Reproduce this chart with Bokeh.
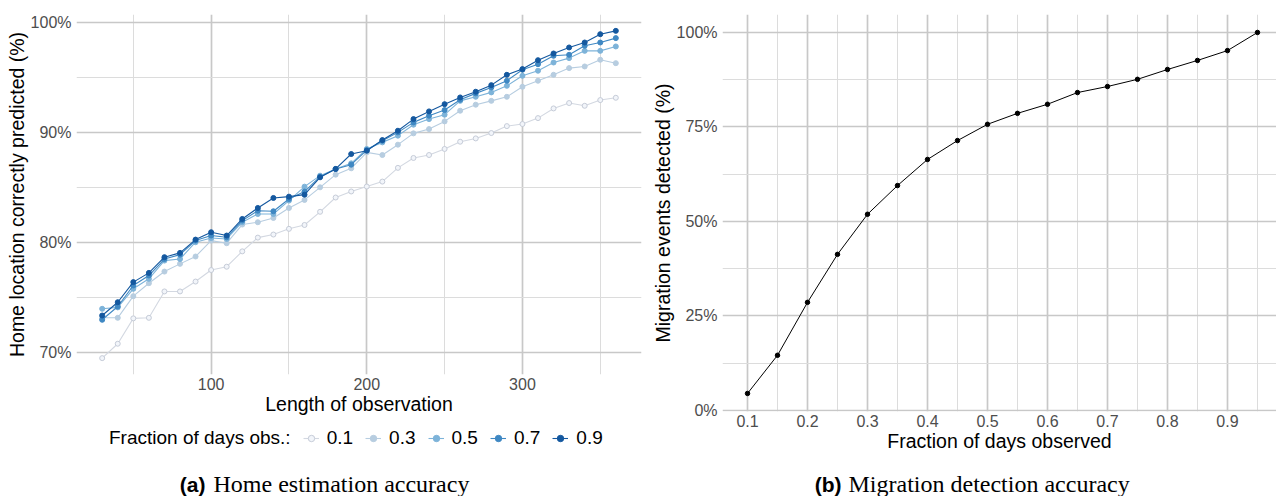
from bokeh.plotting import figure
from bokeh.models import (FixedTicker, PrintfTickFormatter, Range1d, Legend,
                          LegendItem, ColumnDataSource)
from bokeh.layouts import row, column
from bokeh.embed import file_html
from bokeh.resources import INLINE
from bokeh.core.properties import value

# ---------------- data ----------------
length = [30, 40, 50, 60, 70, 80, 90, 100, 110, 120, 130, 140, 150, 160, 170,
          180, 190, 200, 210, 220, 230, 240, 250, 260, 270, 280, 290, 300, 310,
          320, 330, 340, 350, 360]

legend_title = "Fraction of days obs.:"
frac_labels = ["0.1", "0.3", "0.5", "0.7", "0.9"]

acc_01 = [69.48, 70.79, 73.10, 73.15, 75.55, 75.55, 76.45, 77.50, 77.80, 79.20,
          80.45, 80.73, 81.25, 81.60, 82.80, 84.10, 84.65, 85.10, 85.55, 86.80,
          87.70, 87.97, 88.52, 89.18, 89.48, 89.97, 90.60, 90.79, 91.33, 92.21,
          92.70, 92.45, 92.97, 93.18]
acc_03 = [73.15, 73.15, 75.12, 76.30, 77.36, 78.06, 78.73, 80.18, 79.94, 81.64,
          81.85, 82.24, 83.15, 83.88, 85.03, 86.18, 86.76, 88.21, 87.97, 88.91,
          89.94, 90.33, 91.03, 92.00, 92.55, 92.90, 93.27, 94.18, 94.73, 95.27,
          95.88, 96.03, 96.64, 96.33]
acc_05 = [73.97, 74.10, 75.79, 76.70, 78.36, 78.50, 80.03, 80.42, 80.33, 81.85,
          82.60, 82.60, 83.82, 85.09, 86.09, 86.70, 87.21, 88.52, 89.12, 89.73,
          90.73, 91.24, 91.64, 92.90, 93.27, 93.67, 94.27, 95.18, 95.64, 96.39,
          96.79, 97.45, 97.45, 97.85]
acc_07 = [72.97, 74.18, 76.09, 77.00, 78.50, 78.90, 80.18, 80.64, 80.48, 82.00,
          82.90, 82.85, 83.97, 84.64, 86.00, 86.70, 87.09, 88.42, 89.27, 90.03,
          90.94, 91.55, 92.06, 93.00, 93.58, 94.12, 94.73, 95.73, 96.24, 97.00,
          97.09, 97.91, 98.21, 98.61]
acc_09 = [73.36, 74.57, 76.40, 77.24, 78.67, 79.06, 80.27, 80.94, 80.64, 82.15,
          83.15, 84.06, 84.18, 84.36, 85.94, 86.70, 88.06, 88.36, 89.33, 90.18,
          91.24, 91.94, 92.60, 93.21, 93.73, 94.33, 95.27, 95.79, 96.60, 97.21,
          97.76, 98.21, 98.97, 99.27]

frac_days = [0.10, 0.15, 0.20, 0.25, 0.30, 0.35, 0.40, 0.45, 0.50, 0.55, 0.60,
             0.65, 0.70, 0.75, 0.80, 0.85, 0.90, 0.95]
migration_detected = [4.5, 14.6, 28.6, 41.3, 51.9, 59.5, 66.4, 71.4, 75.7, 78.6,
                      81.0, 84.1, 85.7, 87.6, 90.2, 92.6, 95.2, 100.0]

x1_ticks = [100, 200, 300]
x1_minor = [50, 150, 250, 350]
y1_ticks = [70, 80, 90, 100]
y1_minor = [75, 85, 95]
x2_ticks = [0.1, 0.2, 0.3, 0.4, 0.5, 0.6, 0.7, 0.8, 0.9]
x2_minor = [0.15, 0.25, 0.35, 0.45, 0.55, 0.65, 0.75, 0.85, 0.95]
y2_ticks = [0, 25, 50, 75, 100]
y2_minor = [12.5, 37.5, 62.5, 87.5]

captions_bold = ["(a)", "(b)"]
captions_text = ["Home estimation accuracy", "Migration detection accuracy"]

# ---------------- style ----------------
SANS = "Liberation Sans"
SERIF = "Liberation Serif"
line_colors = ["#d3d8e1", "#b7cde0", "#7db3d9", "#3f88c3", "#14589f"]
fill_colors = ["#f2f5fa", "#b7cde0", "#7db3d9", "#3f88c3", "#14589f"]
edge_colors = ["#c6ccd8", "#b7cde0", "#7db3d9", "#3f88c3", "#14589f"]


def style(p):
    p.outline_line_color = None
    p.background_fill_color = "white"
    p.border_fill_color = "white"
    for ax in p.axis:
        ax.axis_line_color = None
        ax.major_tick_line_color = None
        ax.minor_tick_line_color = None
        ax.major_tick_out = 0
        ax.major_tick_in = 0
        ax.minor_tick_out = 0
        ax.minor_tick_in = 0
        ax.major_label_text_font = SANS
        ax.major_label_text_font_size = "16px"
        ax.major_label_text_color = "#4d4d4d"
        ax.axis_label_text_font = SANS
        ax.axis_label_text_font_size = "19.5px"
        ax.axis_label_text_font_style = "normal"
        ax.axis_label_text_color = "black"
    p.grid.grid_line_color = "#c8c8c8"
    p.grid.grid_line_width = 1.7
    p.grid.minor_grid_line_color = "#dcdcdc"
    p.grid.minor_grid_line_width = 1.0


# ---------------- left chart ----------------
p1 = figure(width=642, height=423, x_range=Range1d(13.5, 376.5),
            y_range=Range1d(67.99, 100.76), output_backend="svg",
            toolbar_location=None, min_border_left=76, min_border_right=1,
            min_border_top=14, min_border_bottom=49)
p1.xaxis.ticker = FixedTicker(ticks=x1_ticks, minor_ticks=x1_minor)
p1.yaxis.ticker = FixedTicker(ticks=y1_ticks, minor_ticks=y1_minor)
p1.xgrid.ticker = FixedTicker(ticks=x1_ticks, minor_ticks=x1_minor)
p1.ygrid.ticker = FixedTicker(ticks=y1_ticks, minor_ticks=y1_minor)
p1.yaxis.formatter = PrintfTickFormatter(format="%d%%")
p1.xaxis.axis_label = "Length of observation"
p1.yaxis.axis_label = "Home location correctly predicted (%)"
style(p1)
p1.xaxis.major_label_standoff = 3
p1.xaxis.axis_label_standoff = 0
p1.yaxis.major_label_standoff = 5
p1.yaxis.axis_label_standoff = 0

series = [acc_01, acc_03, acc_05, acc_07, acc_09]
for ys, lc, fc, ec in zip(series, line_colors, fill_colors, edge_colors):
    src = ColumnDataSource(dict(x=length, y=ys))
    p1.line("x", "y", source=src, line_color=lc, line_width=1.1)
    p1.scatter("x", "y", source=src, size=5, fill_color=fc, line_color=ec,
               line_width=1)

# ---------------- legend strip (below left chart) ----------------
# proxy renderers use the same series, but fall outside this strip's view
leg = figure(width=642, height=37, x_range=Range1d(0, 1), y_range=Range1d(0, 1),
             output_backend="svg", toolbar_location=None, x_axis_type=None,
             y_axis_type=None, min_border=0, min_border_left=76,
             min_border_right=1, min_border_bottom=7)
leg.outline_line_color = None
leg.grid.visible = False
title_r = leg.scatter("x", "y", source=ColumnDataSource(dict(x=length, y=acc_01)),
                      size=1, fill_alpha=0, line_alpha=0)
items = [LegendItem(label=value(legend_title), renderers=[title_r])]
for lab, ys, lc, fc, ec in zip(frac_labels, series, line_colors, fill_colors, edge_colors):
    s = ColumnDataSource(dict(x=length, y=ys))
    lr = leg.line("x", "y", source=s, line_color=lc, line_width=1.1)
    sr = leg.scatter("x", "y", source=s, size=5, fill_color=fc, line_color=ec,
                     line_width=1)
    items.append(LegendItem(label=value(lab), renderers=[lr, sr]))

legend = Legend(items=items, orientation="horizontal", location="center_left")
legend.label_text_font = SANS
legend.label_text_font_size = "19px"
legend.label_text_color = "black"
legend.border_line_color = None
legend.background_fill_alpha = 0
legend.glyph_width = 16
legend.glyph_height = 18
legend.spacing = 12
legend.label_standoff = 8
legend.padding = 2
legend.margin = 9
leg.add_layout(legend)

# ---------------- right chart ----------------
p2 = figure(width=634, height=460, x_range=Range1d(0.0583, 0.9817),
            y_range=Range1d(-0.275, 104.75), output_backend="svg",
            toolbar_location=None, min_border_left=80, min_border_right=0,
            min_border_top=14, min_border_bottom=49)
p2.xaxis.ticker = FixedTicker(ticks=x2_ticks, minor_ticks=x2_minor)
p2.yaxis.ticker = FixedTicker(ticks=y2_ticks, minor_ticks=y2_minor)
p2.xgrid.ticker = FixedTicker(ticks=x2_ticks, minor_ticks=x2_minor)
p2.ygrid.ticker = FixedTicker(ticks=y2_ticks, minor_ticks=y2_minor)
p2.yaxis.formatter = PrintfTickFormatter(format="%d%%")
p2.xaxis.formatter = PrintfTickFormatter(format="%.1f")
p2.xaxis.axis_label = "Fraction of days observed"
p2.yaxis.axis_label = "Migration events detected (%)"
style(p2)
p2.xaxis.major_label_standoff = 3
p2.xaxis.axis_label_standoff = 0
p2.yaxis.major_label_standoff = 5
p2.yaxis.axis_label_standoff = 0

src2 = ColumnDataSource(dict(x=frac_days, y=migration_detected))
p2.line("x", "y", source=src2, line_color="black", line_width=1)
p2.scatter("x", "y", source=src2, size=4.5, fill_color="black", line_color="black")

# ---------------- captions ----------------
cap = figure(width=1276, height=36, x_range=Range1d(0, 1276), y_range=Range1d(0, 36),
             output_backend="svg", toolbar_location=None, x_axis_type=None,
             y_axis_type=None, min_border=0)
cap.outline_line_color = None
cap.grid.visible = False
cap_src_b = ColumnDataSource(dict(x=[205, 841], y=[12.5, 12.5], t=captions_bold))
cap_src_s = ColumnDataSource(dict(x=[213, 848], y=[12.5, 12.5], t=captions_text))
cap.text("x", "y", text="t", source=cap_src_b, text_font=value(SANS),
         text_font_style="bold", text_font_size="21px", text_align="right",
         text_baseline="middle", text_color="black")
cap.text("x", "y", text="t", source=cap_src_s, text_font=value(SERIF),
         text_font_size="24px", text_align="left", text_baseline="middle",
         text_color="black")

layout = column(row(column(p1, leg), column(p2)), cap)
open("out.html", "w").write(file_html(layout, INLINE))
